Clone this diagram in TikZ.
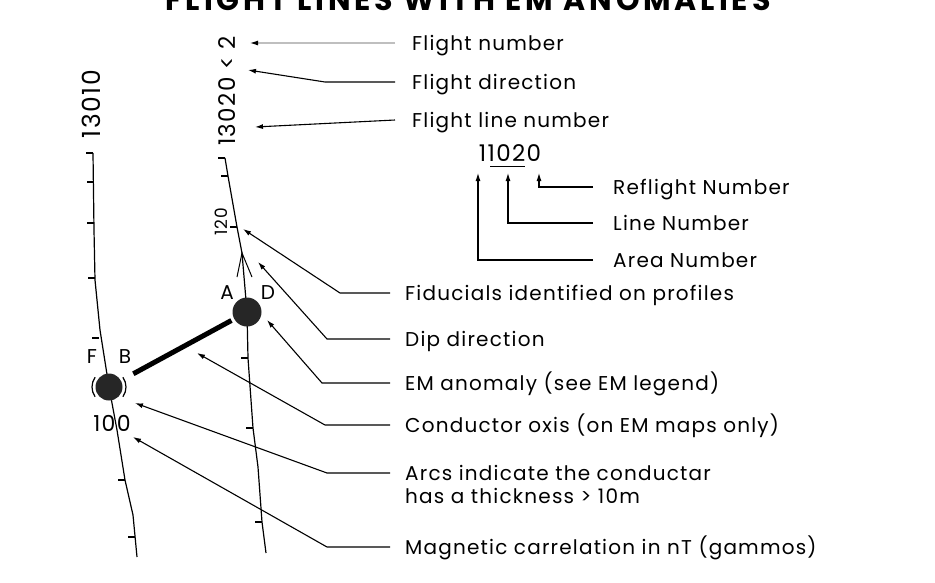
\documentclass[tikz,border=0pt]{standalone}
\usepackage{fontspec}
\setmainfont{Poppins}[LetterSpace=6]
\usetikzlibrary{arrows.meta,calc,positioning}

\tikzset{
  flightline/.style={line width=1.2pt},
  tickmark/.style={line width=1.2pt},
  leader/.style={line width=1.1pt,-{Latex[length=8pt,width=5pt]}},
  legend/.style={anchor=west,inner sep=0pt,text height=19pt,text depth=4pt,
    font=\fontsize{20}{24}\selectfont},
  anomaly/.style={circle,fill=black!85,inner sep=0pt,minimum size=#1},
  letterlbl/.style={inner sep=0pt,font=\fontsize{20}{24}\selectfont},
  linelbl/.style={rotate=90,inner sep=0pt,font=\fontsize{25}{28}\selectfont},
}

\begin{document}
\begin{tikzpicture}[x=1pt,y=-1pt]
  \useasboundingbox (0,0) rectangle (935,582);
  % title, cut by the top edge of the scan
  \node[anchor=base,font=\bfseries\fontsize{30}{34}\selectfont\addfontfeature{LetterSpace=13}]
      (title) at (468,10) {FLIGHT LINES WITH EM ANOMALIES};

  % the two flight lines
  \draw[flightline] (93,153) -- (94,230) -- (95,280) -- (100,330) -- (109,387)
      -- (117,430) -- (125,480) -- (133,515) -- (137,557);
  \draw[flightline] (225,158) -- (228,176) -- (237,227) -- (242,253) -- (247,312)
      -- (248,358) -- (253,428) -- (258,467) -- (262,522) -- (266,553);
  \foreach \p in {(93,153),(94,182),(94,223),(95,278),(99,338),(125,480),(135,537),
                  (225,158),(228,176),(237,227),(248,358),(253,428),(262,522)}
    \draw[tickmark] \p -- ++(-7,0);

  \node[linelbl] (lbl13010) at (91,104) {13010};
  \node[linelbl,font=\fontsize{23}{26}\selectfont] (lbl13020) at (227,91) {13020 < 2};
  \node[rotate=90,inner sep=0pt,font=\fontsize{17}{20}\selectfont] (fid120) at (221,222) {120};
  \node[inner sep=0pt,font=\fontsize{22}{26}\selectfont] (mag100) at (112,423) {100};

  % flight direction
  \coordinate (dirTip) at (242,253);
  \draw[line width=1pt] (237,277) -- (dirTip) -- (252,277);

  % anomalies and conductor axis
  \node[anomaly=29pt] (emA) at (247,312) {};
  \node[anomaly=27pt] (emB) at (109,387) {};
  \draw[line width=5pt,shorten <=14pt,shorten >=3pt] (emB) -- (emA);
  \draw[flightline] ($(emB)+(145:17)$) arc[start angle=145,end angle=215,radius=17];
  \draw[flightline] ($(emB)+(-35:17)$) arc[start angle=-35,end angle=35,radius=17];
  \node[letterlbl] (lA) at (227,293) {A};
  \node[letterlbl] (lD) at (268,293) {D};
  \node[letterlbl] (lF) at (92,357) {F};
  \node[letterlbl] (lB) at (125,357) {B};

  % arrow tips
  \coordinate (fnTip) at (250,43);
  \coordinate (fdTip) at (248,70);
  \coordinate (flTip) at (255,127);
  \coordinate (areaTip) at (478,173);
  \coordinate (lineTip) at (508,173);
  \coordinate (reflTip) at (539,173);
  \coordinate (fidTip) at (243,229);
  \coordinate (dipTip) at (258,262);
  \coordinate (emTip) at (267,320);
  \coordinate (axTip) at (197,353);
  \coordinate (arcTip) at (135,403);
  \coordinate (magTip) at (133,437);

  % legend
  \node[legend] (tFlightNo) at (412,43) {Flight number};
  \node[legend] (tFlightDir) at (412,82) {Flight direction};
  \node[legend] (tLineNo) at (412,120) {Flight line number};
  \node[anchor=base,inner sep=0pt,font=\fontsize{23}{26}\selectfont] (code) at (510,161) {11020};
  \draw[line width=0.8pt] (490,166) -- (525,166);
  \node[legend] (tRefl) at (613,187) {Reflight Number};
  \node[legend] (tLine) at (613,223) {Line Number};
  \node[legend] (tArea) at (613,260) {Area Number};
  \node[legend] (tFid) at (405,293) {Fiducials identified on profiles};
  \node[legend] (tDip) at (405,339) {Dip direction};
  \node[legend] (tEM) at (405,383) {EM anomaly (see EM legend)};
  \node[legend] (tAxis) at (405,425) {Conductor oxis (on EM maps only)};
  \node[legend] (tArcs) at (405,473) {Arcs indicate the conductar};
  \node[legend] (tArcs2) at (405,496) {has a thickness > 10m};
  \node[legend] (tMag) at (405,547) {Magnetic carrelation in nT (gammos)};

  \draw[leader,gray!50,-{Latex[length=8pt,width=5pt,color=black]}]
      ([xshift=-17pt]tFlightNo.west) -- (fnTip);
  \draw[leader] ([xshift=-17pt]tFlightDir.west) -- ++(-70,0) -- (fdTip);
  \draw[leader] ([xshift=-17pt]tLineNo.west) -- (flTip);
  \draw[leader] ([xshift=-20pt]tRefl.west) -| (reflTip);
  \draw[leader] ([xshift=-20pt]tLine.west) -| (lineTip);
  \draw[leader] ([xshift=-20pt]tArea.west) -| (areaTip);
  \draw[leader] ([xshift=-15pt]tFid.west) -- ++(-50,0) -- (fidTip);
  \draw[leader] ([xshift=-15pt]tDip.west) -- ++(-63,0) -- (dipTip);
  \draw[leader] ([xshift=-15pt]tEM.west) -- ++(-68,0) -- (emTip);
  \draw[leader] ([xshift=-15pt]tAxis.west) -- ++(-65,0) -- (axTip);
  \draw[leader] ([xshift=-15pt]tArcs.west) -- ++(-63,0) -- (arcTip);
  \draw[leader] ([xshift=-15pt]tMag.west) -- ++(-63,0) -- (magTip);
\end{tikzpicture}
\end{document}
